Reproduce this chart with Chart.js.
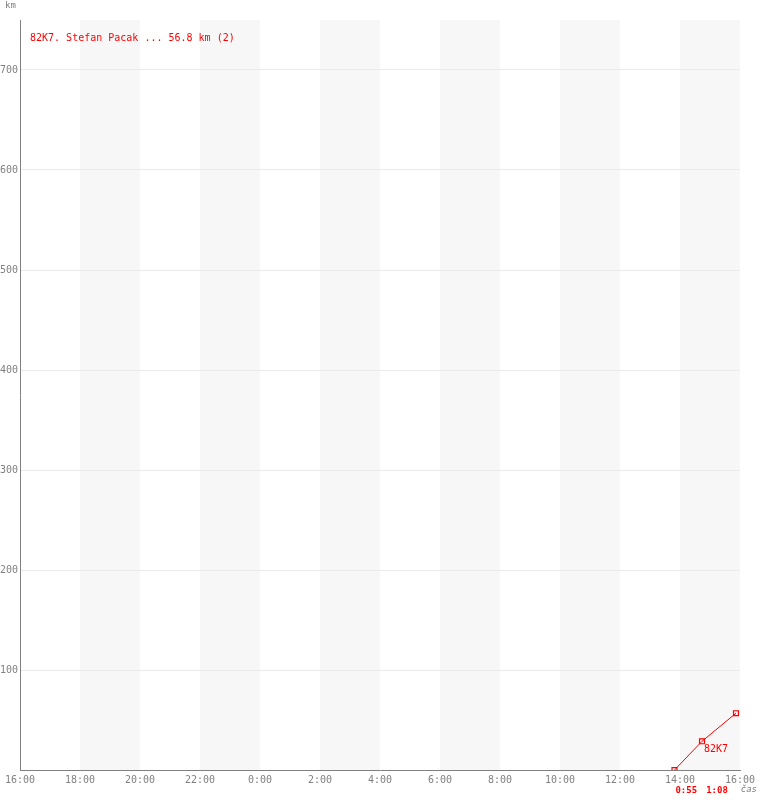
<!DOCTYPE html>
<html>
<head>
<meta charset="utf-8">
<script src="https://cdn.jsdelivr.net/npm/chart.js@4"></script>
<style>
  body{margin:0;background:#fff;}
  #wrap{width:760px;height:800px;}
</style>
</head>
<body>
<div id="wrap"><canvas id="chart" width="760" height="800"></canvas></div>
<script>
// data
const times=['13:49','14:44','15:52'];
const distKm=[0, 28.7, 56.8];
const pointLabels=['', '82K7', ''];
const legendText='82K7. Stefan Pacak ... 56.8 km (2)';
const startHour=16;            // x axis starts 16:00
const hourTicks=['16:00','18:00','20:00','22:00','0:00','2:00','4:00','6:00','8:00','10:00','12:00','14:00','16:00'];
const kmTicks=[100,200,300,400,500,600,700];

const FONT='"DejaVu Sans Mono", "Liberation Mono", monospace';
const RED='#ff0000';
const GREY='#808080';

// hours since start of axis
function toHours(t){
  const p=t.split(':');
  let h=+p[0]+(+p[1])/60-startHour;
  if(h<0) h+=24;
  return h;
}
function fmtDur(h){
  const m=Math.round(h*60);
  return Math.floor(m/60)+':'+String(m%60).padStart(2,'0');
}

const points=times.map((t,i)=>({x:toHours(t),y:distKm[i]}));

const bandsPlugin={
  id:'bands',
  beforeDraw(chart){
    const {ctx,chartArea,scales}=chart;
    ctx.save();
    ctx.fillStyle='#fff';
    ctx.fillRect(0,0,chart.width,chart.height);
    ctx.fillStyle='#f7f7f7';
    for(let h=2;h<24;h+=4){
      const x0=scales.x.getPixelForValue(h);
      const x1=scales.x.getPixelForValue(h+2);
      ctx.fillRect(x0,chartArea.top,x1-x0,chartArea.bottom-chartArea.top);
    }
    ctx.restore();
  }
};

const textPlugin={
  id:'texts',
  afterDraw(chart){
    const {ctx,scales,chartArea}=chart;
    ctx.save();
    ctx.textBaseline='middle';
    ctx.fillStyle=GREY;
    ctx.font='9px '+FONT;
    ctx.textAlign='left';
    ctx.fillText('km',5,6);
    ctx.font='oblique 9px '+FONT;
    ctx.textAlign='right';
    ctx.fillText('čas',757,790);

    ctx.fillStyle=RED;
    ctx.font='10px '+FONT;
    ctx.textAlign='left';
    ctx.fillText(legendText,30,38);

    // point labels
    const meta=chart.getDatasetMeta(0);
    meta.data.forEach((el,i)=>{
      if(pointLabels[i]) ctx.fillText(pointLabels[i],el.x+2,el.y+8);
    });

    // segment durations under the axis
    ctx.font='bold 9px '+FONT;
    ctx.textAlign='center';
    for(let i=1;i<points.length;i++){
      const mid=(points[i-1].x+points[i].x)/2;
      ctx.fillText(fmtDur(points[i].x-points[i-1].x),scales.x.getPixelForValue(mid)-2,chartArea.bottom+21);
    }
    ctx.restore();
  }
};

new Chart(document.getElementById('chart'),{
  type:'line',
  data:{
    datasets:[{
      data:points,
      borderColor:RED,
      borderWidth:1,
      backgroundColor:'transparent',
      pointStyle:'rect',
      pointRadius:3.5,
      pointBorderWidth:1.2,
      pointBorderColor:RED,
      pointBackgroundColor:'transparent',
      tension:0
    }]
  },
  options:{
    responsive:false,
    animation:false,
    devicePixelRatio:1,
    layout:{padding:{top:20,right:20,left:0,bottom:0}},
    plugins:{legend:{display:false},tooltip:{enabled:false}},
    scales:{
      x:{
        type:'linear',min:0,max:24,
        afterFit(s){s.height=30;},
        border:{color:GREY,width:1},
        grid:{display:false,drawTicks:false},
        ticks:{
          stepSize:2,autoSkip:false,maxRotation:0,padding:4,
          color:GREY,font:{family:FONT,size:10},
          callback:(v)=>hourTicks[v/2]
        }
      },
      y:{
        type:'linear',min:0,max:750,
        afterFit(s){s.width=20;},
        afterBuildTicks(s){s.ticks=[0].concat(kmTicks).map(v=>({value:v}));},
        border:{color:GREY,width:1},
        grid:{color:'#ebebeb',lineWidth:1,drawTicks:false},
        ticks:{
          padding:2,color:GREY,font:{family:FONT,size:10},
          callback:(v)=>v===0?'':v
        }
      }
    }
  },
  plugins:[bandsPlugin,textPlugin]
});
</script>
</body>
</html>
